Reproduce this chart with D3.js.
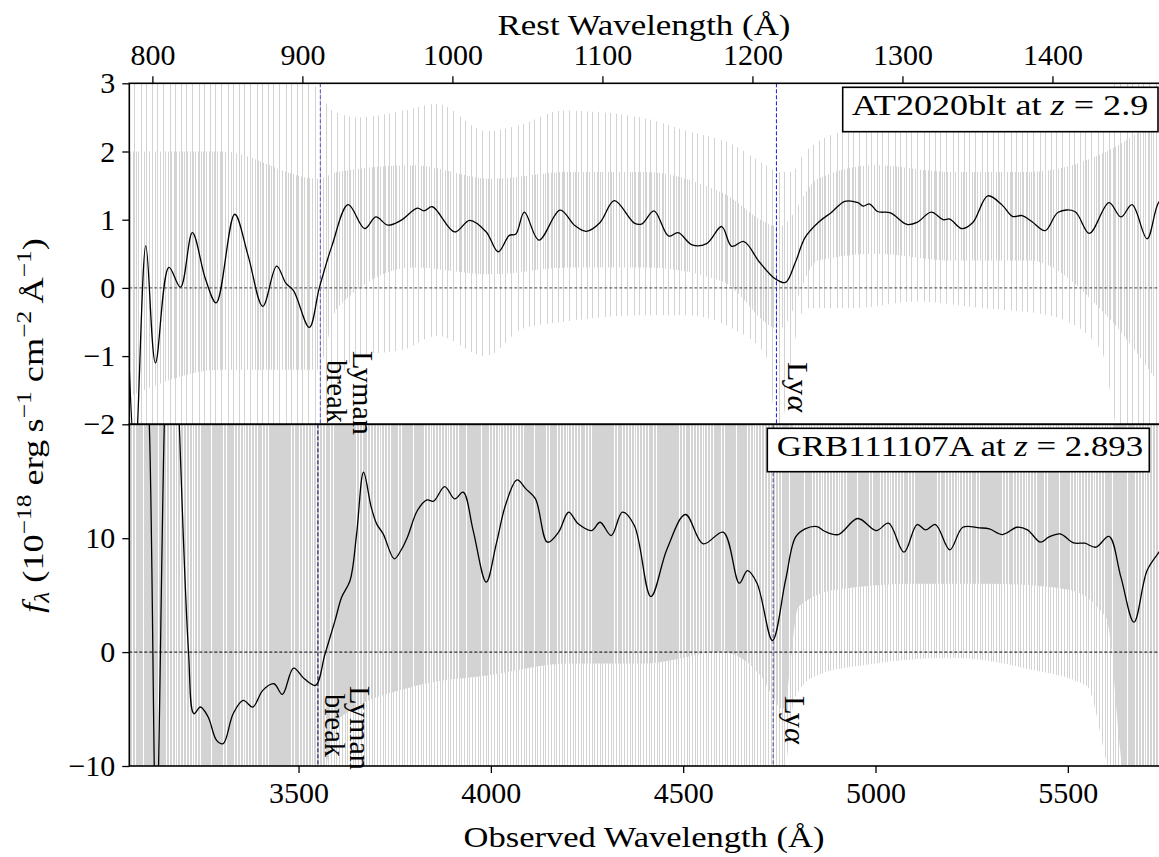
<!DOCTYPE html>
<html><head><meta charset="utf-8">
<script src="https://cdn.jsdelivr.net/npm/d3@7"></script>
<style>
body{margin:0;background:#fff;}
svg{display:block;}
text{font-family:"Liberation Serif","Times New Roman","DejaVu Serif",serif !important;fill:#000;}
</style>
</head><body>
<svg id="chart" width="1159" height="857"></svg>
<script>
// ---------------- data ----------------
const zAT = 2.9, zGRB = 2.893;
const lymanRest = 912, lyaRest = 1216;
const restTicks = [800, 900, 1000, 1100, 1200, 1300, 1400];
const obsTicks = [3500, 4000, 4500, 5000, 5500];
const topYTicks = [-2, -1, 0, 1, 2, 3];
const botYTicks = [-10, 0, 10];

// AT2020blt smoothed spectrum (observed Å, 1e-18 erg/s/cm2/Å)
const atWave = [3058,3075,3103,3128,3163,3193,3224,3258,3286,3334,3369,3407,3443,3467,3487,3528,3554,3587,3629,3672,3701,3732,3766,3809,3826,3848,3906,3945,3988,4019,4048,4065,4087,4125,4180,4219,4248,4284,4321,4373,4393,4424,4462,4487,4523,4561,4600,4626,4658,4698,4740,4766,4792,4817,4851,4886,4920,4954,4968,4985,5005,5039,5082,5108,5145,5176,5193,5224,5253,5292,5330,5356,5381,5407,5441,5475,5518,5556,5607,5638,5667,5706,5737,5755];
const atFlux = [-0.9,-2.5,0.62,-1.10,0.30,0.01,0.81,0.13,-0.22,1.08,0.47,-0.27,0.32,0.07,-0.04,-0.58,0.0,0.62,1.22,0.87,1.04,0.92,0.99,1.17,1.13,1.19,0.82,0.99,0.82,0.53,0.77,0.79,1.11,0.70,1.14,0.91,0.83,0.96,1.28,0.95,0.94,1.13,0.76,0.81,0.63,0.65,0.90,0.61,0.68,0.38,0.13,0.08,0.38,0.74,0.96,1.11,1.27,1.25,1.20,1.23,1.12,1.10,0.93,0.96,1.11,1.00,1.01,0.87,0.96,1.35,1.21,1.05,1.06,0.97,0.84,1.11,1.12,0.80,1.25,1.04,1.22,0.72,1.26,1.3];

// AT2020blt raw spectrum envelope (outer spikes and dense core)
const atRawWave = [3057,3484,3552,3587,3655,3775,3860,3988,4082,4185,4390,4510,4629,4715,4749,4783,4817,4937,5108,5279,5450,5586,5638,5760];
const atRawHi   = [3.2,3.2,2.9,2.6,2.5,2.6,2.7,2.3,2.4,2.6,2.5,2.3,2.1,1.8,1.7,1.7,2.0,2.3,2.3,2.3,2.4,2.7,3.2,3.2];
const atRawLo   = [-2.2,-2.2,-2.2,-1.6,-1.0,-0.9,-0.7,-1.0,-0.6,-0.5,-0.4,-0.4,-0.6,-1.0,-2.2,-1.0,-0.3,-0.3,-0.2,-0.3,-0.4,-0.9,-2.2,-2.2];
const atCoreWave = [3057,3300,3550,3600,3800,4000,4200,4400,4600,4750,4850,5000,5200,5400,5600,5760];
const atCoreHi   = [2.0,2.0,1.6,1.7,1.8,1.6,1.7,1.7,1.4,0.9,1.6,1.8,1.7,1.7,2.0,2.6];
const atCoreLo   = [-1.6,-1.2,-1.2,-0.3,0.3,0.2,0.3,0.3,0.1,-0.6,0.4,0.5,0.4,0.4,-0.4,-1.6];

// GRB111107A smoothed spectrum
const grbWave = [3060,3095,3112,3130,3151,3170,3190,3214,3228,3245,3265,3287,3304,3330,3356,3381,3407,3436,3458,3487,3515,3544,3569,3595,3612,3634,3651,3669,3689,3703,3720,3749,3766,3783,3809,3834,3851,3880,3906,3928,3954,3988,4014,4039,4068,4091,4116,4147,4176,4202,4227,4262,4284,4313,4342,4373,4416,4458,4506,4552,4604,4646,4667,4692,4732,4766,4792,4817,4848,4868,4903,4954,5002,5034,5074,5108,5130,5156,5193,5227,5270,5296,5330,5368,5395,5429,5450,5480,5515,5544,5573,5607,5638,5672,5706,5737,5755];
const grbFlux = [48,32,20,-16,20,42,20,0,-5.41,-4.82,-5.70,-7.75,-8.04,-5.41,-4.24,-4.82,-3.36,-2.78,-3.71,-1.40,-2.34,-2.92,-0.15,2.78,4.82,6.29,10.38,15.79,12.72,11.26,10.38,8.19,8.92,10.09,12.43,13.36,13.25,14.53,13.45,14.04,10.67,6.14,9.50,13.01,15.12,14.33,13.45,9.65,10.53,12.28,11.26,10.67,11.40,10.23,12.28,11.11,4.88,9.06,12.08,9.50,10.53,6.05,7.16,6.05,1.02,6.29,10.09,10.82,11.02,10.61,10.32,11.73,10.67,11.32,8.77,11.20,10.73,11.20,8.98,10.96,10.91,10.82,10.32,10.96,10.73,9.65,10.09,10.38,9.59,9.56,9.21,10.15,6.58,2.63,7.16,8.77,9.6];

// GRB111107A raw spectrum envelope
const grbRawWave = [3057,3560,4000,4700,4760,4790,4850,5000,5200,5400,5550,5620,5760];
const grbRawHi   = [21,21,21,21,21,21,21,21,21,21,21,21,21];
const grbRawLo   = [-11,-11,-11,-11,-11,-4,-2,-1,-0.5,-1.5,-3,-11,-11];
const grbCoreWave = [3057,3560,3600,3800,4000,4200,4400,4600,4700,4760,4800,4900,5100,5300,5500,5600,5650,5760];
const grbCoreHi   = [21,21,21,21,21,21,21,21,21,21,19,17,16.5,16.5,17,19,21,21];
const grbCoreLo   = [-11,-11,-6,-3,-2,-1,-1,0,-2,-5,4,5.5,6,6,5.5,3,-11,-11];

// ---------------- layout ----------------
const L = 129.3, R = 1164;
const topT = 83.3, mid = 424.3, botB = 766;
const FS = 30;
const GRAY = "#d3d3d3";

const svg = d3.select("#chart");
const x = d3.scaleLinear().domain([3060, 5750]).range([L, R]);
const yTop = d3.scaleLinear().domain([-2, 3]).range([mid, topT]);
const yBot = d3.scaleLinear().domain([-10, 20]).range([botB, mid]);

const defs = svg.append("defs");
defs.append("clipPath").attr("id","clipTop").append("rect")
  .attr("x",L).attr("y",topT).attr("width",R-L).attr("height",mid-topT);
defs.append("clipPath").attr("id","clipBot").append("rect")
  .attr("x",L).attr("y",mid).attr("width",R-L).attr("height",botB-mid);

// vertical-stripe textures imitating the noisy, densely sampled raw spectra
function stripes(id, width, offsets){
  const p = defs.append("pattern").attr("id",id).attr("patternUnits","userSpaceOnUse")
    .attr("x",0).attr("y",0).attr("width",width).attr("height",20);
  offsets.forEach(o=>p.append("rect").attr("x",o).attr("y",0).attr("width",1).attr("height",20).attr("fill",GRAY));
}
stripes("sparse", 29, [1,7,12,18,25]);
stripes("medium", 19, [0,3,5,8,11,13,16]);
stripes("dense", 17, [0,1,3,4,6,8,9,11,12,14,15]);

function band(g, wave, hi, lo, y, fill){
  const d = wave.map((w,i)=>({w, hi:hi[i], lo:lo[i]}));
  g.append("path").datum(d)
    .attr("d", d3.area().x(p=>x(p.w)).y0(p=>y(p.lo)).y1(p=>y(p.hi)).curve(d3.curveMonotoneX))
    .attr("fill", fill).attr("stroke","none");
}
function curve(g, wave, flux, y){
  const n = Math.min(wave.length, flux.length);
  const d = d3.range(n).map(i=>({w:wave[i], f:flux[i]}));
  g.append("path").datum(d)
    .attr("d", d3.line().x(p=>x(p.w)).y(p=>y(p.f)).curve(d3.curveCatmullRom.alpha(0.5)))
    .attr("fill","none").attr("stroke","#000").attr("stroke-width",1.3);
}

// ---- top panel ----
const gTop = svg.append("g").attr("clip-path","url(#clipTop)");
band(gTop, atRawWave, atRawHi, atRawLo, yTop, "url(#sparse)");
band(gTop, atCoreWave, atCoreHi, atCoreLo, yTop, "url(#medium)");
gTop.append("line").attr("x1",L).attr("x2",R).attr("y1",yTop(0)).attr("y2",yTop(0))
  .attr("stroke","#444").attr("stroke-width",1).attr("stroke-dasharray","3,2");
gTop.append("line").attr("x1",x(lymanRest*(1+zAT))).attr("x2",x(lymanRest*(1+zAT)))
  .attr("y1",topT).attr("y2",mid).attr("stroke","#6a6acc").attr("stroke-width",1.2).attr("stroke-dasharray","4,2");
gTop.append("line").attr("x1",x(lyaRest*(1+zAT))).attr("x2",x(lyaRest*(1+zAT)))
  .attr("y1",topT).attr("y2",mid).attr("stroke","#1a1acc").attr("stroke-width",1).attr("stroke-dasharray","4,2");
curve(gTop, atWave, atFlux, yTop);

// ---- bottom panel ----
const gBot = svg.append("g").attr("clip-path","url(#clipBot)");
band(gBot, grbRawWave, grbRawHi, grbRawLo, yBot, "url(#medium)");
band(gBot, grbCoreWave, grbCoreHi, grbCoreLo, yBot, "url(#dense)");
gBot.append("line").attr("x1",L).attr("x2",R).attr("y1",yBot(0)).attr("y2",yBot(0))
  .attr("stroke","#000").attr("stroke-width",1).attr("stroke-dasharray","3,2");
gBot.append("line").attr("x1",x(lymanRest*(1+zGRB))).attr("x2",x(lymanRest*(1+zGRB)))
  .attr("y1",mid).attr("y2",botB).attr("stroke","#000055").attr("stroke-width",1).attr("stroke-dasharray","4,2");
gBot.append("line").attr("x1",x(lyaRest*(1+zGRB))).attr("x2",x(lyaRest*(1+zGRB)))
  .attr("y1",mid).attr("y2",botB).attr("stroke","#444488").attr("stroke-width",1).attr("stroke-dasharray","4,2");
curve(gBot, grbWave, grbFlux, yBot);

// ---- frames ----
const frame = svg.append("g").attr("fill","none").attr("stroke","#000").attr("stroke-width",1.6);
frame.append("rect").attr("x",L).attr("y",topT).attr("width",R-L).attr("height",mid-topT);
frame.append("rect").attr("x",L).attr("y",mid).attr("width",R-L).attr("height",botB-mid);

// ---- axes ----
function styleAxis(g){
  g.attr("font-family",null);
  g.select(".domain").remove();
  g.selectAll(".tick line").attr("stroke","#000").attr("stroke-width",1.3);
  g.selectAll(".tick text").attr("font-size",FS).attr("fill","#000");
}
svg.append("g").attr("transform",`translate(0,${botB})`)
  .call(d3.axisBottom(x).tickValues(obsTicks).tickFormat(d3.format("d")).tickSize(7).tickPadding(9))
  .call(styleAxis);
const xRest = d3.scaleLinear().domain([3060/(1+zAT), 5750/(1+zAT)]).range([L, R]);
svg.append("g").attr("transform",`translate(0,${topT})`)
  .call(d3.axisTop(xRest).tickValues(restTicks).tickFormat(d3.format("d")).tickSize(7).tickPadding(11))
  .call(styleAxis);
svg.append("g").attr("transform",`translate(${L},0)`)
  .call(d3.axisLeft(yTop).tickValues(topYTicks).tickFormat(d3.format("d")).tickSize(7).tickPadding(7))
  .call(styleAxis);
svg.append("g").attr("transform",`translate(${L},0)`)
  .call(d3.axisLeft(yBot).tickValues(botYTicks).tickFormat(d3.format("d")).tickSize(7).tickPadding(7))
  .call(styleAxis);

// ---- text helper ----
function label(tx, ty, rot, parts, target, anchor){
  const g = svg.append("g").attr("transform",`translate(${tx},${ty}) rotate(${rot})`);
  const t = g.append("text").attr("x",0).attr("y",0).attr("font-size",FS)
    .attr("text-anchor",anchor||"start");
  parts.forEach(p=>{
    const s = t.append("tspan").text(p.t);
    if (p.it) s.attr("font-style","italic");
    if (p.fs) s.attr("font-size",p.fs);
    if (p.dy) s.attr("dy",p.dy);
  });
  if (target){
    const w = t.node().getComputedTextLength();
    if (w>0) t.attr("transform",`scale(${target/w},1)`);
  }
  return g;
}

label(644, 847, 0, [{t:"Observed Wavelength (Å)"}], 361, "middle");
label(644, 35, 0, [{t:"Rest Wavelength (Å)"}], 293, "middle");
label(43, 425.5, -90, [
  {t:"f",it:true},{t:"λ",it:true,fs:21,dy:6},
  {t:" (10",dy:-6},{t:"−18",fs:21,dy:-12},
  {t:" erg\u2009s",dy:12},{t:"−1",fs:21,dy:-12},
  {t:" cm",dy:12},{t:"−2",fs:21,dy:-12},
  {t:"\u2009Å",dy:12},{t:"−1",fs:21,dy:-12},
  {t:")",dy:12}
], 375, "middle");

// boxes
svg.append("rect").attr("x",842.7).attr("y",87.3).attr("width",315.3).attr("height",44.4)
  .attr("fill","#fff").attr("stroke","#000").attr("stroke-width",1.6);
label(851.7, 115, 0, [{t:"AT2020blt at "},{t:"z",it:true},{t:" = 2.9"}], 296.6, "start");
svg.append("rect").attr("x",767.3).attr("y",428.3).attr("width",382).attr("height",43.4)
  .attr("fill","#fff").attr("stroke","#000").attr("stroke-width",1.6);
label(776.7, 456, 0, [{t:"GRB111107A at "},{t:"z",it:true},{t:" = 2.893"}], 366.6, "start");

// annotations
label(353, 351, 90, [{t:"Lyman"}], 84, "start");
label(327, 360, 90, [{t:"break"}], 63, "start");
label(788, 362, 90, [{t:"Ly"},{t:"α",it:true}], 50, "start");
label(350, 686, 90, [{t:"Lyman"}], 84, "start");
label(325, 694, 90, [{t:"break"}], 63, "start");
label(785, 696, 90, [{t:"Ly"},{t:"α",it:true}], 48, "start");
</script>
</body></html>
